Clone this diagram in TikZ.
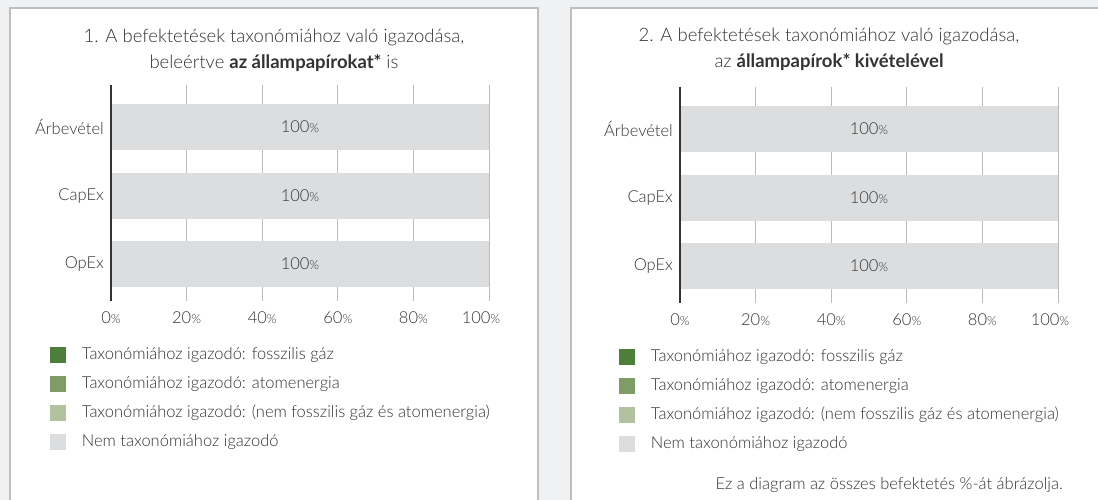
\documentclass[tikz,border=0pt]{standalone}
\usepackage{fontspec}
\setmainfont{Lato}[UprightFont=* Light, BoldFont=* Bold]
\definecolor{bg}{HTML}{F0F1F3}
\definecolor{frame}{HTML}{BEBEBE}
\definecolor{barg}{HTML}{DCDDDF}
\definecolor{gridg}{HTML}{BBBBBB}
\definecolor{txt}{HTML}{333333}
\definecolor{gA}{HTML}{4E7F3A}
\definecolor{gB}{HTML}{7F9B68}
\definecolor{gC}{HTML}{B2C29F}
\newcommand\pct{{\fontsize{12.5}{12.5}\selectfont\%}}
\tikzset{
  panelbox/.style={draw=frame, line width=2pt, fill=white},
  barbox/.style={fill=barg, minimum width=378pt, minimum height=46pt, inner sep=0pt, text=txt, font=\fontsize{16.5}{18}\selectfont},
  rowlab/.style={anchor=east, inner sep=0pt, text=txt, font=\fontsize{16.5}{18}\selectfont},
  ticklab/.style={inner sep=0pt, text=txt, font=\fontsize{16.5}{18}\selectfont},
  gridline/.style={draw=gridg, line width=1pt},
  axisline/.style={draw=txt, line width=1.2pt},
  legsq/.style={minimum size=15.5pt, inner sep=0pt},
  legtext/.style={anchor=west, inner sep=0pt, text=txt, font=\fontsize{16.5}{18}\selectfont},
  titletext/.style={align=center, inner sep=0pt, text=txt, font=\fontsize{18.5}{26}\selectfont},
  notetext/.style={anchor=east, inner sep=0pt, text=txt, font=\fontsize{16.5}{18}\selectfont}
}
\newcommand\chartbody{%
  \foreach \i in {1,...,5} {
    \coordinate (gt\i) at ({111+75.6*\i},85);
    \coordinate (gb\i) at ({111+75.6*\i},301);
    \draw[gridline] (gt\i) -- (gb\i);
  }
  \node[barbox] (bar1) at (300,127) {100\pct};
  \node[barbox] (bar2) at (300,196) {100\pct};
  \node[barbox] (bar3) at (300,264) {100\pct};
  \coordinate (axtop) at (111,85);
  \coordinate (axbot) at (111,301);
  \draw[axisline] (axtop) -- (axbot);
  \node[rowlab] (lab1) at (104,127) {Árbevétel};
  \node[rowlab] (lab2) at (104,196) {CapEx};
  \node[rowlab] (lab3) at (104,264) {OpEx};
  \node[ticklab] (t0) at (111,318) {0\pct};
  \node[ticklab] (t1) at (186.6,318) {20\pct};
  \node[ticklab] (t2) at (262.2,318) {40\pct};
  \node[ticklab] (t3) at (337.8,318) {60\pct};
  \node[ticklab] (t4) at (413.4,318) {80\pct};
  \node[ticklab] (t5) at (481,318) {100\pct};
  \node[legsq, fill=gA] (sq1) at (58,355) {};
  \node[legsq, fill=gB] (sq2) at (58,384) {};
  \node[legsq, fill=gC] (sq3) at (58,413) {};
  \node[legsq, fill=barg] (sq4) at (58,442) {};
  \node[legtext] (lt1) at (81.7,355) {Taxonómiához igazodó: fosszilis gáz};
  \node[legtext] (lt2) at (81.7,384) {Taxonómiához igazodó: atomenergia};
  \node[legtext] (lt3) at (81.7,413) {Taxonómiához igazodó: (nem fosszilis gáz és atomenergia)};
  \node[legtext] (lt4) at (81.7,442) {Nem taxonómiához igazodó};
}
\begin{document}
\begin{tikzpicture}[x=1pt, y=-1pt]
  \useasboundingbox (0,0) rectangle (1098,500);
  \clip (0,0) rectangle (1098,500);
  \fill[bg] (0,0) rectangle (1098,500);
  \draw[panelbox] (9.5,8.5) rectangle (538,520);
  \draw[panelbox] (571,8.5) rectangle (1120,520);
  \node[titletext] (title1) at (274,50) {1. A befektetések taxonómiához való igazodása,\\beleértve \textbf{az állampapírokat*} is};
  \node[titletext] (title2) at (829,49) {2. A befektetések taxonómiához való igazodása,\\az \textbf{állampapírok* kivételével}};
  \begin{scope}[name prefix=p1-]
    \chartbody
  \end{scope}
  \begin{scope}[shift={(569,2)}, name prefix=p2-]
    \chartbody
  \end{scope}
  \node[notetext] (note) at (1063,485) {Ez a diagram az összes befektetés \%-át ábrázolja.};
\end{tikzpicture}
\end{document}
